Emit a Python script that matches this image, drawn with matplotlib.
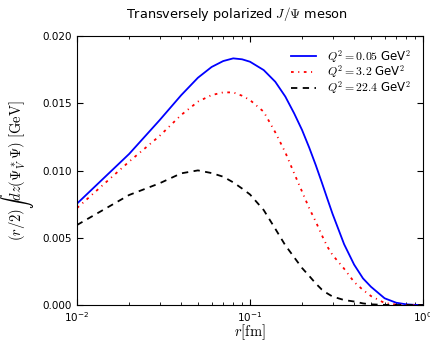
import matplotlib
matplotlib.use("Agg")
import matplotlib.pyplot as plt

plt.rcParams['mathtext.fontset'] = 'cm'
plt.rcParams['font.family'] = ['DejaVu Sans']

r = [0.01, 0.02, 0.03, 0.04, 0.05, 0.06, 0.07, 0.08, 0.09, 0.10,
     0.12, 0.14, 0.16, 0.18, 0.20, 0.22, 0.24, 0.26, 0.28, 0.30,
     0.35, 0.40, 0.45, 0.50, 0.60, 0.70, 0.80, 0.90, 1.00]

v_q005 = [0.00754, 0.01123, 0.01374, 0.01560, 0.01690, 0.01770, 0.01814, 0.01834, 0.01827, 0.01809,
          0.01747, 0.01660, 0.01550, 0.01425, 0.01301, 0.01170, 0.01040, 0.00912, 0.00790, 0.00678,
          0.00452, 0.00300, 0.00198, 0.00136, 0.00050, 0.00017, 0.00005, 0.00001, 0.0]

v_q32 = [0.00721, 0.01066, 0.01257, 0.01413, 0.01512, 0.01561, 0.01581, 0.01581, 0.01556, 0.01524,
         0.01437, 0.01284, 0.01135, 0.00979, 0.00843, 0.00719, 0.00620, 0.00520, 0.00434, 0.00372,
         0.00270, 0.00171, 0.00112, 0.00067, 0.00015, 0.00003, 0.0, 0.0, 0.0]

v_q224 = [0.00595, 0.00818, 0.00905, 0.00979, 0.01001, 0.00981, 0.00954, 0.00912, 0.00866, 0.00822,
          0.00706, 0.00567, 0.00444, 0.00355, 0.00275, 0.00216, 0.00160, 0.00115, 0.00086, 0.00063,
          0.00037, 0.00026, 0.00012, 0.00005, 0.00001, 0.0, 0.0, 0.0, 0.0]

labels = [r"$Q^2=0.05$ GeV$^2$", r"$Q^2=3.2$ GeV$^2$", r"$Q^2=22.4$ GeV$^2$"]
yticks = [0.0, 0.005, 0.010, 0.015, 0.020]
yticklabels = ['0.000', '0.005', '0.010', '0.015', '0.020']

fig = plt.figure(figsize=(4.31, 3.4), dpi=100)
ax = fig.add_axes([0.1787, 0.1029, 0.8027, 0.7911])

ax.plot(r, v_q005, color='blue', lw=1.3, linestyle='-', label=labels[0])
ax.plot(r, v_q32, color='red', lw=1.3, linestyle=(0, (1.5, 2.5, 0.6, 2.5)), label=labels[1])
ax.plot(r, v_q224, color='black', lw=1.3, linestyle=(0, (3.5, 3.0)), label=labels[2])

ax.set_xscale('log')
ax.set_xlim(0.01, 1.0)
ax.set_ylim(0, 0.02)
ax.set_yticks(yticks)
ax.set_yticklabels(yticklabels)
ax.tick_params(which='both', direction='in', top=True, right=True, labelsize=7.5)
ax.tick_params(which='major', length=4)
ax.tick_params(which='minor', length=2)

ax.set_xlabel(r"$r[\mathrm{fm}]$", fontsize=10.5)
ax.xaxis.set_label_coords(0.5, -0.066)
ax.set_ylabel(r"$(r/2)\int dz(\Psi_V^*\Psi)\ [\mathrm{GeV}]$", fontsize=10.5)
ax.yaxis.set_label_coords(-0.118, 0.5)
fig.text(0.55, 0.958, r"Transversely polarized $J/\Psi$ meson", fontsize=9.3,
         ha='center', va='center')

ax.legend(loc='upper right', frameon=False, fontsize=8.5, handlelength=2.2,
          labelspacing=-0.1, borderaxespad=0.6, handletextpad=0.9)

fig.savefig('out.png', dpi=100)
